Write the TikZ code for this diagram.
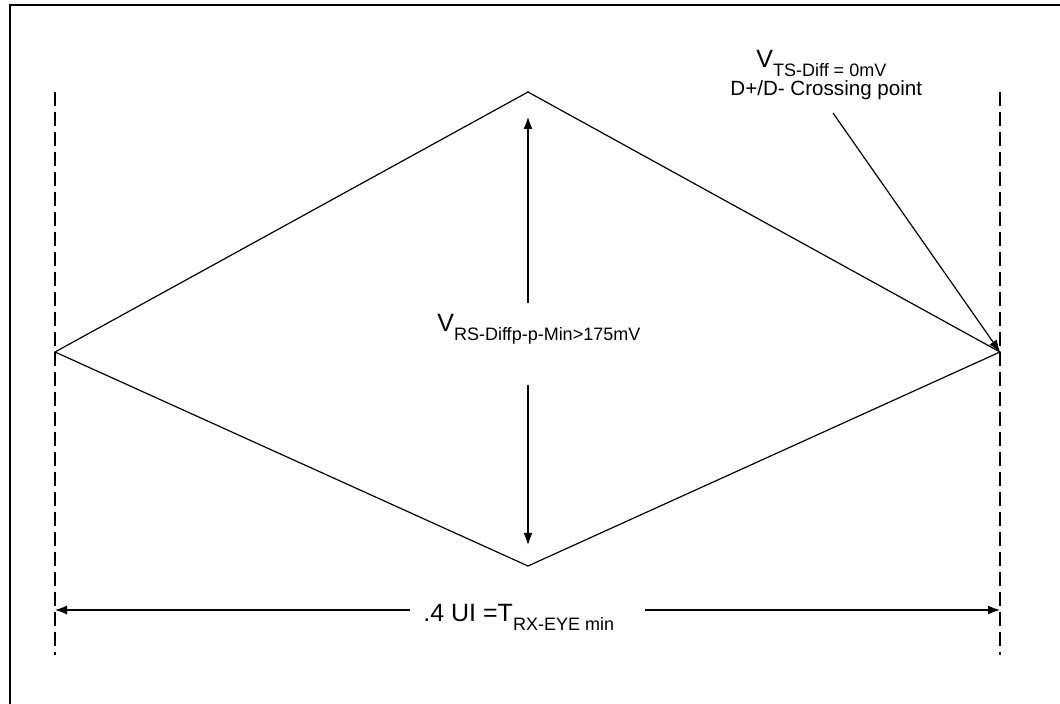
\documentclass[tikz,border=0pt]{standalone}
\usepackage{fontspec}
\setmainfont{Liberation Sans}
\usetikzlibrary{arrows.meta}

\tikzset{
  eye/.style={line width=0.6pt},
  bound/.style={line width=0.9pt, dash pattern=on 7pt off 3pt},
  arr/.style={line width=0.6pt, -{Latex[length=6pt,width=4.5pt]}},
  lbl/.style={inner sep=0pt, font=\fontsize{12.5}{14}\selectfont},
  note/.style={inner sep=0pt, font=\fontsize{10.3}{12}\selectfont}
}
\newcommand{\lowsub}[1]{\raisebox{-4.5pt}{\fontsize{9}{11}\selectfont #1}}

\begin{document}
\begin{tikzpicture}[x=0.5pt,y=-0.5pt]
\useasboundingbox (0,0) rectangle (1060,704);
% frame
\draw[line width=0.9pt] (10,704) -- (10,5) -- (1060,5);
% eye corners
\coordinate (L) at (55,352);
\coordinate (T) at (528,92);
\coordinate (R) at (1000,352);
\coordinate (B) at (528,566);
\draw[eye] (L) -- (T) -- (R) -- (B) -- cycle;
% bounds of the interval
\draw[bound] (55,92) -- (55,655);
\draw[bound] (1000,92) -- (1000,655);
% eye height
\node[lbl, anchor=base west] (vrs) at (437,332) {V\lowsub{RS-Diffp-p-Min>175mV}};
\coordinate (vup) at (528,117);
\coordinate (vdn) at (528,545);
\coordinate (vgt) at (528,303);
\coordinate (vgb) at (528,385);
\draw[arr] (vgt) -- (vup);
\draw[arr] (vgb) -- (vdn);
% eye width
\node[lbl, anchor=base west] (ui) at (423,622) {.4 UI =T\lowsub{RX-EYE min}};
\coordinate (hl) at (55,610);
\coordinate (hr) at (1000,610);
\coordinate (hgl) at (410,610);
\coordinate (hgr) at (645,610);
\draw[arr] (hgl) -- (hl);
\draw[arr] (hgr) -- (hr);
% crossing point
\node[lbl, anchor=base west] (vts) at (756,68) {V\lowsub{TS-Diff = 0mV}};
\node[note, anchor=base west] (cross) at (730,96) {D+/D- Crossing point};
\coordinate (cs) at (833,113);
\draw[arr] (cs) -- (R);
\end{tikzpicture}
\end{document}
